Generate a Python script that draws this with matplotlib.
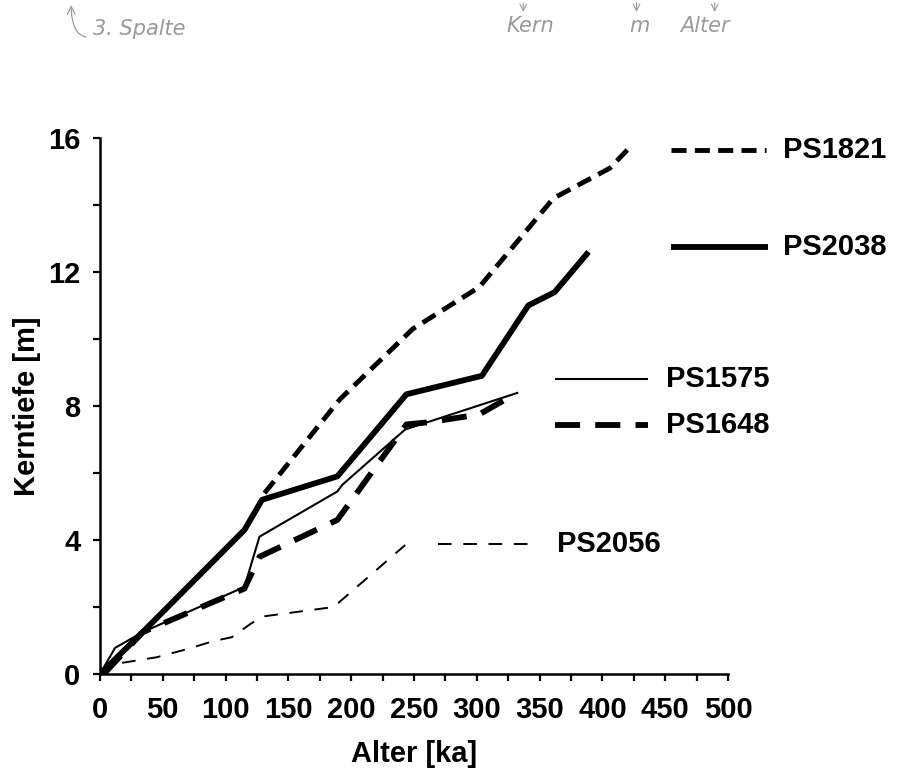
import matplotlib
matplotlib.use('Agg')
import matplotlib.pyplot as plt
from matplotlib.ticker import MultipleLocator

plt.rcParams['font.family'] = ['Liberation Sans', 'DejaVu Sans']
plt.rcParams['font.weight'] = 'bold'

# Alter [ka] / Kerntiefe [m] je Kern
ps1821_alter = [131, 191, 249, 302, 361, 406, 420]
ps1821_tiefe = [5.4, 8.2, 10.3, 11.55, 14.2, 15.1, 15.65]

ps2038_alter = [0, 34, 115, 129, 189, 244, 304, 341, 362, 389]
ps2038_tiefe = [0, 1.25, 4.3, 5.2, 5.9, 8.35, 8.9, 11.0, 11.4, 12.6]

ps1575_alter = [0, 12, 34, 115, 127, 189, 193, 243, 333]
ps1575_tiefe = [0, 0.78, 1.25, 2.6, 4.1, 5.45, 5.65, 7.3, 8.4]

ps1648_alter = [3, 34, 115, 127, 189, 244, 263, 302, 330]
ps1648_tiefe = [0, 1.25, 2.55, 3.5, 4.6, 7.45, 7.52, 7.75, 8.35]

ps2056_alter = [0, 12, 45, 70, 90, 105, 120, 130, 186, 243]
ps2056_tiefe = [0, 0.3, 0.5, 0.75, 0.98, 1.1, 1.5, 1.72, 2.0, 3.85]

kerne = ['PS1821', 'PS2038', 'PS1575', 'PS1648', 'PS2056']

fig = plt.figure(figsize=(8.99, 7.76), dpi=100)
ax = fig.add_axes([0.1112, 0.1314, 0.6986, 0.6908])

stile = {
    'PS1821': dict(lw=3.5, dashes=(3.1, 1.7)),
    'PS2038': dict(lw=4.2, linestyle='-'),
    'PS1575': dict(lw=1.5, linestyle='-'),
    'PS1648': dict(lw=4.2, dashes=(4.3, 2.6)),
    'PS2056': dict(lw=1.4, dashes=(7.0, 6.0)),
}
daten = {
    'PS1821': (ps1821_alter, ps1821_tiefe),
    'PS2038': (ps2038_alter, ps2038_tiefe),
    'PS1575': (ps1575_alter, ps1575_tiefe),
    'PS1648': (ps1648_alter, ps1648_tiefe),
    'PS2056': (ps2056_alter, ps2056_tiefe),
}

for k in kerne:
    x, y = daten[k]
    ax.plot(x, y, color='black', solid_capstyle='butt', dash_capstyle='butt', **stile[k])

# Beschriftung der Kurven rechts neben dem Diagramm: (x von, x bis, y, x Text)
beschriftung = {
    'PS1821': (455, 530, 15.64, 544),
    'PS2038': (455, 532, 12.75, 544),
    'PS1575': (362, 436, 8.8, 451),
    'PS1648': (362, 436, 7.43, 451),
    'PS2056': (269, 342, 3.88, 364),
}
for k in kerne:
    x0, x1, yy, xt = beschriftung[k]
    ax.plot([x0, x1], [yy, yy], color='black', clip_on=False,
            solid_capstyle='butt', dash_capstyle='butt', **stile[k])
    ax.text(xt, yy, k, fontsize=21, fontweight='bold', va='center', ha='left')

ax.set_xlim(0, 500)
ax.set_ylim(0, 16)
ax.xaxis.set_major_locator(MultipleLocator(50))
ax.xaxis.set_minor_locator(MultipleLocator(25))
ax.yaxis.set_major_locator(MultipleLocator(4))
ax.yaxis.set_minor_locator(MultipleLocator(2))

for s in ['top', 'right']:
    ax.spines[s].set_visible(False)
for s in ['left', 'bottom']:
    ax.spines[s].set_linewidth(1.8)

ax.tick_params(which='both', direction='out', length=5, width=1.6, labelsize=21)
ax.tick_params(axis='x', which='major', pad=11)
ax.tick_params(axis='y', which='major', pad=9)

ax.set_xlabel('Alter [ka]', fontsize=21, fontweight='bold', labelpad=11)
ax.set_ylabel('Kerntiefe [m]', fontsize=21, fontweight='bold', labelpad=5)

# handschriftliche Notizen oben
grau = '#9a9a9a'
fig.text(0.103, 0.963, '3. Spalte', fontsize=15, color=grau, style='italic',
         fontweight='normal', family=['DejaVu Sans'], va='center')
ax.annotate('', xy=(0.079, 0.997), xytext=(0.099, 0.952), xycoords='figure fraction',
            arrowprops=dict(arrowstyle='->', color=grau, lw=0.9, mutation_scale=14,
                            connectionstyle='angle3,angleA=0,angleB=90'))
for wort, xf in [('Kern', 0.563), ('m', 0.700), ('Alter', 0.757)]:
    fig.text(xf, 0.966, wort, fontsize=15, color=grau, style='italic',
             fontweight='normal', family=['DejaVu Sans'], va='center')
for xf in [0.582, 0.708, 0.795]:
    ax.annotate('', xy=(xf, 0.981), xytext=(xf, 1.0), xycoords='figure fraction',
                arrowprops=dict(arrowstyle='->', color=grau, lw=0.8, mutation_scale=12))

fig.savefig('out.png', dpi=100)
